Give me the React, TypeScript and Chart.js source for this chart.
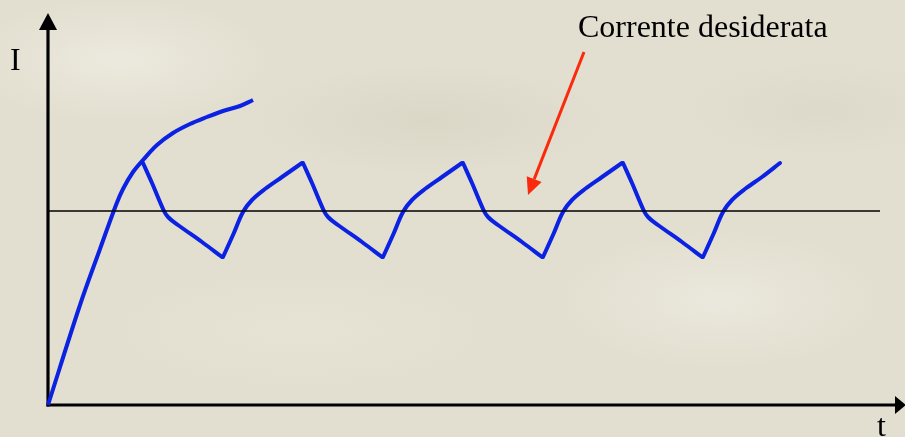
import React, { useEffect, useRef } from "react";
import { Chart, registerables } from "chart.js";

Chart.register(...registerables);

// Start-up current (t, I)
const riseT = [0, 3.2, 5.2, 6.8, 7.5, 8.5, 9.5, 10.9, 12.5, 14.2, 15.9, 17.5, 19.2, 20.5];
const riseI = [0, 10.0, 15.6, 20.0, 21.6, 23.3, 24.5, 26.0, 27.2, 28.1, 28.8, 29.4, 29.9, 30.5];

// Regulated current: alternating falling / rising strokes, 7 points each (t, I)
const SEG = 7;
const sawT = [
  9.5, 10.4, 11.6, 12.0, 13.0, 15.4, 17.4,
  17.5, 18.5, 19.5, 20.4, 21.7, 23.4, 25.4,
  25.5, 26.4, 27.6, 28.0, 29.0, 31.4, 33.4,
  33.5, 34.5, 35.5, 36.4, 37.7, 39.4, 41.4,
  41.5, 42.4, 43.6, 44.0, 45.0, 47.4, 49.4,
  49.5, 50.5, 51.5, 52.4, 53.7, 55.4, 57.4,
  57.5, 58.4, 59.6, 60.0, 61.0, 63.4, 65.4,
  65.5, 66.5, 67.5, 68.4, 69.7, 71.4, 73.2,
];
const sawI = [
  24.2, 22.2, 19.4, 18.8, 18.0, 16.3, 14.8,
  14.8, 17.0, 19.3, 20.5, 21.6, 22.8, 24.2,
  24.2, 22.2, 19.4, 18.8, 18.0, 16.3, 14.8,
  14.8, 17.0, 19.3, 20.5, 21.6, 22.8, 24.2,
  24.2, 22.2, 19.4, 18.8, 18.0, 16.3, 14.8,
  14.8, 17.0, 19.3, 20.5, 21.6, 22.8, 24.2,
  24.2, 22.2, 19.4, 18.8, 18.0, 16.3, 14.8,
  14.8, 17.0, 19.3, 20.5, 21.6, 22.8, 24.2,
];

// Desired current (set-point)
const setT = [0, 83.2];
const setI = [19.4, 19.4];

// Annotation arrow (from, to) in data units
const arrowFrom = { t: 53.6, I: 35.3 };
const arrowTo = { t: 48.0, I: 21.0 };

const T_MAX = 85.7;
const I_MAX = 39.2;

const BLUE = "#0b22e2";
const RED = "#fb2a0c";

const toPts = (xs: number[], ys: number[]) => xs.map((x, i) => ({ x, y: ys[i] }));

const axesPlugin = {
  id: "axesArrows",
  beforeDatasetsDraw(chart: any) {
    const { ctx, scales } = chart;
    const x0 = scales.x.getPixelForValue(0);
    const y0 = scales.y.getPixelForValue(0);
    const yTop = scales.y.getPixelForValue(I_MAX);
    const xEnd = scales.x.getPixelForValue(T_MAX);
    ctx.save();
    ctx.strokeStyle = "#000";
    ctx.fillStyle = "#000";
    ctx.lineWidth = 3.2;
    ctx.lineCap = "butt";
    ctx.beginPath();
    ctx.moveTo(x0, y0 + 1.5);
    ctx.lineTo(x0, yTop + 17);
    ctx.stroke();
    ctx.beginPath();
    ctx.moveTo(x0, yTop);
    ctx.lineTo(x0 - 9, yTop + 17);
    ctx.lineTo(x0 + 9, yTop + 17);
    ctx.closePath();
    ctx.fill();
    ctx.beginPath();
    ctx.moveTo(x0 - 1.5, y0);
    ctx.lineTo(xEnd - 10, y0);
    ctx.stroke();
    ctx.beginPath();
    ctx.moveTo(xEnd + 1, y0);
    ctx.lineTo(xEnd - 10, y0 - 9);
    ctx.lineTo(xEnd - 10, y0 + 9);
    ctx.closePath();
    ctx.fill();
    ctx.restore();
  },
  afterDatasetsDraw(chart: any) {
    const { ctx, scales } = chart;
    const fx = scales.x.getPixelForValue(arrowFrom.t);
    const fy = scales.y.getPixelForValue(arrowFrom.I);
    const tx = scales.x.getPixelForValue(arrowTo.t);
    const ty = scales.y.getPixelForValue(arrowTo.I);
    const ang = Math.atan2(ty - fy, tx - fx);
    const headLen = 17;
    const headHalf = 8;
    const bx = tx - headLen * Math.cos(ang);
    const by = ty - headLen * Math.sin(ang);
    ctx.save();
    ctx.strokeStyle = RED;
    ctx.fillStyle = RED;
    ctx.lineWidth = 3;
    ctx.beginPath();
    ctx.moveTo(fx, fy);
    ctx.lineTo(bx, by);
    ctx.stroke();
    ctx.beginPath();
    ctx.moveTo(tx, ty);
    ctx.lineTo(bx + headHalf * Math.sin(ang), by - headHalf * Math.cos(ang));
    ctx.lineTo(bx - headHalf * Math.sin(ang), by + headHalf * Math.cos(ang));
    ctx.closePath();
    ctx.fill();
    ctx.restore();
  },
};

export default function App() {
  const canvasRef = useRef<HTMLCanvasElement | null>(null);

  useEffect(() => {
    document.body.style.margin = "0";
    const canvas = canvasRef.current;
    if (!canvas) return;

    const strokeStyle = {
      showLine: true,
      borderColor: BLUE,
      borderWidth: 4,
      pointRadius: 0,
      tension: 0.35,
      borderCapStyle: "round",
      borderJoinStyle: "round",
      clip: false,
    };

    const sawDatasets: any[] = [];
    for (let s = 0; s * SEG < sawT.length; s++) {
      const xs = sawT.slice(s * SEG, (s + 1) * SEG);
      const ys = sawI.slice(s * SEG, (s + 1) * SEG);
      sawDatasets.push({ label: "Corrente " + (s + 1), data: toPts(xs, ys), ...strokeStyle });
    }

    const chart = new Chart(canvas, {
      type: "scatter",
      data: {
        datasets: [
          {
            label: "Corrente desiderata",
            data: toPts(setT, setI),
            showLine: true,
            borderColor: "#000",
            borderWidth: 1.5,
            pointRadius: 0,
            tension: 0,
            clip: false,
          } as any,
          { label: "Avvio", data: toPts(riseT, riseI), ...strokeStyle, borderCapStyle: "butt" } as any,
          ...sawDatasets,
        ],
      },
      options: {
        responsive: false,
        animation: false,
        layout: { padding: { left: 48, top: 13, right: 0, bottom: 32 } },
        plugins: {
          legend: { display: false },
          tooltip: { enabled: false },
          title: { display: false },
        },
        scales: {
          x: { type: "linear", min: 0, max: T_MAX, display: false },
          y: { type: "linear", min: 0, max: I_MAX, display: false },
        },
        events: [],
      },
      plugins: [axesPlugin],
    });
    return () => chart.destroy();
  }, []);

  const textStyle: React.CSSProperties = {
    position: "absolute",
    fontFamily: "'Liberation Serif', 'Times New Roman', serif",
    fontSize: "32px",
    lineHeight: "32px",
    color: "#000",
    whiteSpace: "nowrap",
    margin: 0,
  };

  return (
    <div
      style={{
        position: "absolute",
        left: 0,
        top: 0,
        width: 905,
        height: 437,
        overflow: "hidden",
        backgroundColor: "#e2dfd0",
        backgroundImage:
          "radial-gradient(ellipse 220px 90px at 120px 60px, rgba(240,238,228,0.7), rgba(240,238,228,0) 70%)," +
          "radial-gradient(ellipse 260px 80px at 430px 120px, rgba(214,210,194,0.6), rgba(214,210,194,0) 70%)," +
          "radial-gradient(ellipse 240px 100px at 720px 300px, rgba(238,236,226,0.7), rgba(238,236,226,0) 70%)," +
          "radial-gradient(ellipse 300px 90px at 300px 330px, rgba(232,229,216,0.7), rgba(232,229,216,0) 70%)," +
          "radial-gradient(ellipse 200px 70px at 820px 110px, rgba(216,212,196,0.5), rgba(216,212,196,0) 70%)",
      }}
    >
      <canvas
        ref={canvasRef}
        width={905}
        height={437}
        style={{ position: "absolute", left: 0, top: 0, width: 905, height: 437 }}
      />
      <span style={{ ...textStyle, left: 10, top: 43 }}>I</span>
      <span style={{ ...textStyle, left: 877, top: 409 }}>t</span>
      <span style={{ ...textStyle, left: 578, top: 10 }}>Corrente desiderata</span>
    </div>
  );
}
